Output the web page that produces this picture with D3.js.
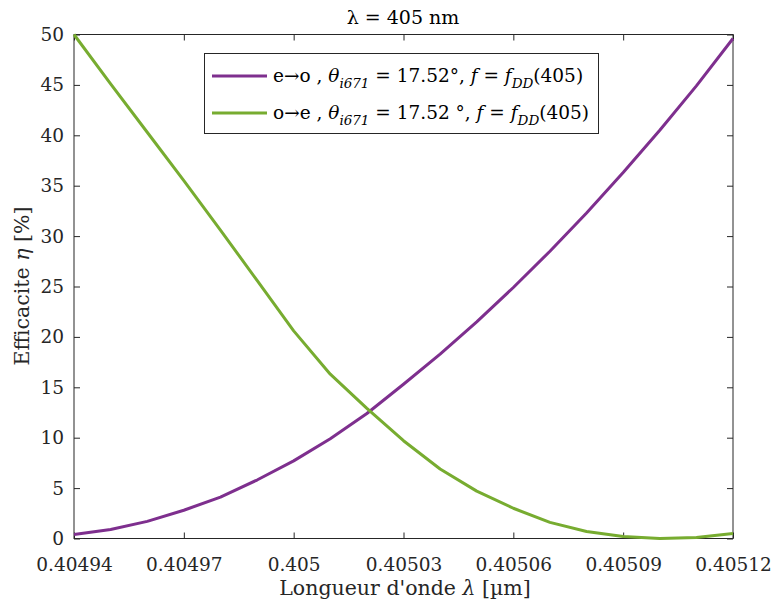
<!DOCTYPE html>
<html><head><meta charset="utf-8">
<script src="https://cdn.jsdelivr.net/npm/d3@7"></script>
<style>body{margin:0;background:#fff}svg{display:block}</style>
</head><body>
<svg id="c" width="774" height="608"></svg>
<script>
const wavelengths = [0.40494,0.40495,0.40496,0.40497,0.40498,0.40499,0.40500,0.40501,0.40502,0.40503,0.40504,0.40505,0.40506,0.40507,0.40508,0.40509,0.40510,0.40511,0.40512];
const etaEO = [0.4,0.9,1.7,2.8,4.1,5.8,7.7,9.9,12.4,15.3,18.3,21.5,24.9,28.5,32.3,36.3,40.5,44.9,49.6];
const etaOE = [50,45.1,40.3,35.5,30.6,25.6,20.6,16.3,12.9,9.7,6.9,4.7,3.0,1.6,0.7,0.2,0.0,0.1,0.5];
const xTicks = [0.40494,0.40497,0.40500,0.40503,0.40506,0.40509,0.40512];
const xTickLabels = ["0.40494","0.40497","0.405","0.40503","0.40506","0.40509","0.40512"];
const yTicks = [0,5,10,15,20,25,30,35,40,45,50];
const seriesNames = ["e\u2192o", "o\u2192e"];
const seriesAngles = ["17.52\u00b0", "17.52 \u00b0"];

const FONT = "DejaVu Serif";
const svg = d3.select("#c");
const L = 74, R = 733, T = 34.5, B = 538.5;
const x = d3.scaleLinear().domain([0.40494, 0.40512]).range([L, R]);
const y = d3.scaleLinear().domain([0, 50]).range([B, T]);
const axCol = "#262626";

svg.append("rect").attr("x", L).attr("y", T).attr("width", R - L).attr("height", B - T)
  .attr("fill", "#fff").attr("stroke", axCol).attr("stroke-width", 1);

const gx = svg.append("g").attr("transform", `translate(0,${B})`)
  .call(d3.axisBottom(x).tickValues(xTicks).tickSize(-6).tickPadding(19).tickFormat((d, i) => xTickLabels[i]));
const gxt = svg.append("g").attr("transform", `translate(0,${T})`)
  .call(d3.axisTop(x).tickValues(xTicks).tickSize(-6).tickFormat(""));
const gy = svg.append("g").attr("transform", `translate(${L},0)`)
  .call(d3.axisLeft(y).tickValues(yTicks).tickSize(-6).tickPadding(10));
const gyr = svg.append("g").attr("transform", `translate(${R},0)`)
  .call(d3.axisRight(y).tickValues(yTicks).tickSize(-6).tickFormat(""));
[gx, gxt, gy, gyr].forEach(g => {
  g.select(".domain").remove();
  g.selectAll("line").attr("stroke", axCol).attr("stroke-width", 1);
  g.selectAll("text").attr("fill", axCol).attr("font-family", FONT).attr("font-size", 18.5);
});

const line = d3.line().x((d, i) => x(wavelengths[i])).y(d => y(d));
const colors = ["#7E2F8E", "#77AC30"];
[etaEO, etaOE].forEach((s, k) => {
  svg.append("path").datum(s).attr("d", line).attr("fill", "none")
    .attr("stroke", colors[k]).attr("stroke-width", 3).attr("stroke-linejoin", "round");
});

svg.append("text").attr("x", 403).attr("y", 24).attr("text-anchor", "middle")
  .attr("font-family", FONT).attr("font-size", 19).attr("fill", "#000").text("\u03bb = 405 nm");

const xl = svg.append("text").attr("x", 405).attr("y", 595).attr("text-anchor", "middle")
  .attr("font-family", FONT).attr("font-size", 20.5).attr("fill", axCol);
xl.append("tspan").text("Longueur d'onde ");
xl.append("tspan").attr("font-style", "italic").text("\u03bb");
xl.append("tspan").text(" [\u00b5m]");
const yl = svg.append("text").attr("transform", "translate(29,286) rotate(-90)").attr("text-anchor", "middle")
  .attr("font-family", FONT).attr("font-size", 20.5).attr("fill", axCol);
yl.append("tspan").text("Efficacite ");
yl.append("tspan").attr("font-style", "italic").text("\u03b7");
yl.append("tspan").text(" [%]");

const lg = svg.append("g");
lg.append("rect").attr("x", 204.5).attr("y", 53.5).attr("width", 394).attr("height", 80)
  .attr("fill", "#fff").attr("stroke", axCol).attr("stroke-width", 1);
[0, 1].forEach(k => {
  const ly = k === 0 ? 76 : 113;
  lg.append("line").attr("x1", 212).attr("x2", 267).attr("y1", ly).attr("y2", ly)
    .attr("stroke", colors[k]).attr("stroke-width", 3);
  const t = lg.append("text").attr("x", 273).attr("y", ly + 6).attr("font-family", FONT)
    .attr("font-size", 18.5).attr("fill", "#000");
  t.append("tspan").text(seriesNames[k] + " , ");
  t.append("tspan").attr("font-style", "italic").text("\u03b8");
  t.append("tspan").attr("font-style", "italic").attr("font-size", 13.5).attr("dy", 6).text("i671");
  t.append("tspan").attr("dy", -6).text(" = " + seriesAngles[k] + ", ");
  t.append("tspan").attr("font-style", "italic").text("f");
  t.append("tspan").text(" = ");
  t.append("tspan").attr("font-style", "italic").text("f");
  t.append("tspan").attr("font-style", "italic").attr("font-size", 13.5).attr("dy", 6).text("DD");
  t.append("tspan").attr("dy", -6).text("(405)");
});
</script>
</body></html>
